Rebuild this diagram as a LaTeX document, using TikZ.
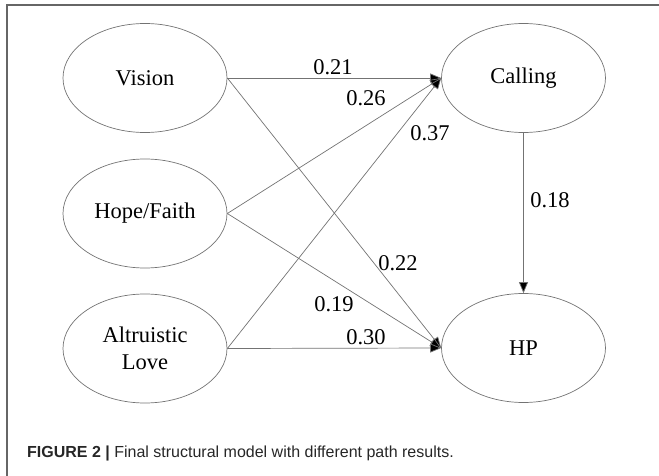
\documentclass[tikz,border=0pt]{standalone}
\usepackage{fontspec}
\setmainfont{Liberation Serif}
\setsansfont{Liberation Sans}
\usepackage{tikz}
\usetikzlibrary{shapes.geometric,arrows.meta,positioning}
\tikzstyle{construct} = [ellipse, draw=black!55, line width=0.7pt, minimum width=164pt, minimum height=109pt, inner sep=0pt, align=center, font=\fontsize{22.5}{27}\selectfont]
\tikzstyle{path line} = [draw=black!55, line width=0.7pt, -{Triangle[length=11pt,width=9pt,fill=black]}]
\tikzstyle{weight} = [inner sep=0pt, font=\fontsize{22.5}{27}\selectfont]
\tikzstyle{frame} = [draw=black!60, line width=1.6pt]

\begin{document}
\begin{tikzpicture}[x=1pt,y=-1pt]
  \useasboundingbox (0,0) rectangle (659,476);
  % Rahmen
  \draw[frame] (7,476) -- (7,5) -- (659,5);
  % Konstrukte
  \node[construct] (vision) at (145,78) {Vision};
  \node[construct] (hope) at (145,213.5) {Hope/Faith};
  \node[construct] (love) at (145,348.5) {Altruistic\\Love};
  \node[construct] (calling) at (523.5,78) {Calling};
  \node[construct] (hp) at (523.5,348) {HP};
  % Pfade
  \draw[path line] (vision.east) -- (calling.west);
  \draw[path line] (hope.east) -- (calling.west);
  \draw[path line] (love.east) -- (calling.west);
  \draw[path line] (vision.east) -- (hp.west);
  \draw[path line] (hope.east) -- (hp.west);
  \draw[path line] (love.east) -- (hp.west);
  \draw[path line] (calling.south) -- (hp.north);
  % Koeffizienten
  \node[weight] (w1) at (333,67) {0.21};
  \node[weight] (w2) at (366,98) {0.26};
  \node[weight] (w3) at (430,133) {0.37};
  \node[weight] (w4) at (550,200) {0.18};
  \node[weight] (w5) at (398,263) {0.22};
  \node[weight] (w6) at (334,304) {0.19};
  \node[weight] (w7) at (366,337) {0.30};
  % Caption
  \node[anchor=base west, inner sep=0pt, text=black!85, font=\sffamily\fontsize{16}{19}\selectfont] (caption) at (27,457) {\textbf{FIGURE 2 |} Final structural model with different path results.};
\end{tikzpicture}
\end{document}
